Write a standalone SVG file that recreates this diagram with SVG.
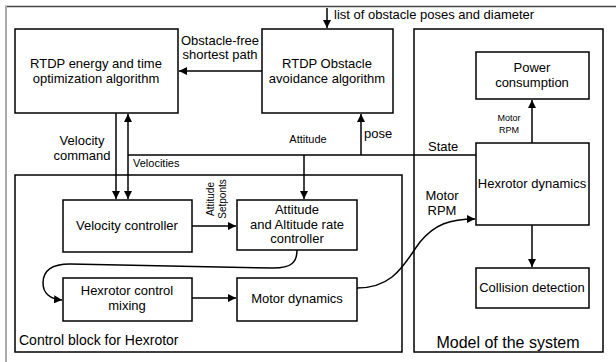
<svg xmlns="http://www.w3.org/2000/svg" width="616" height="362" viewBox="0 0 616 362">
<defs>
<marker id="ah" viewBox="0 0 10 10" refX="10" refY="5" markerWidth="8" markerHeight="8" markerUnits="userSpaceOnUse" orient="auto">
<path d="M0,0 L10,5 L0,10 z" fill="#000"/>
</marker>
<style>
.box{fill:#fff;stroke:#000;stroke-width:1.5}
.grp{fill:none;stroke:#000;stroke-width:1.5}
.t{font-family:"Liberation Sans",Arial,sans-serif;font-size:13px;fill:#000;text-anchor:middle;dominant-baseline:central}
.s{font-size:11px}
.xs{font-size:9px}
.c{fill:none;stroke:#000;stroke-width:1.5}
.a{marker-end:url(#ah)}
</style>
</defs>
<rect width="616" height="362" fill="#fff"/>
<line x1="5" y1="6.5" x2="616" y2="6.5" stroke="#444" stroke-width="1.5"/>
<line x1="6" y1="6" x2="6" y2="362" stroke="#aaa" stroke-width="2"/>

<g id="control-block">
<rect class="grp" x="15" y="175" width="387" height="177"/>
<text class="t" x="19" y="340" style="text-anchor:start;font-size:14px">Control block for Hexrotor</text>
</g>
<g id="model-system">
<rect class="grp" x="414" y="29" width="189" height="323"/>
<text class="t" x="508" y="342" style="font-size:16px">Model of the system</text>
</g>

<g id="connectors">
<line class="c a" x1="262" y1="71" x2="179" y2="71"/>
<line class="c a" x1="327" y1="8" x2="327" y2="28"/>
<line class="c a" x1="116" y1="113" x2="116" y2="199"/>
<line class="c a" x1="128" y1="155" x2="128" y2="114"/>
<line class="c a" x1="128" y1="155" x2="128" y2="199"/>
<line class="c" x1="128" y1="155" x2="476" y2="155"/>
<line class="c a" x1="304" y1="155" x2="304" y2="199"/>
<line class="c a" x1="361" y1="155" x2="361" y2="114"/>
<line class="c a" x1="532" y1="143" x2="532" y2="100"/>
<line class="c a" x1="532" y1="225" x2="532" y2="267"/>
<line class="c a" x1="192" y1="226" x2="236" y2="226"/>
<line class="c a" x1="192" y1="298" x2="236" y2="298"/>
<path class="c a" d="M297,250 C297,262 292,268 273,268 L70,264 C50,264 43,272 43,283 C43,293 50,299 62,300"/>
<path class="c a" d="M357,288 C395,288 405,262 420,242 C435,224 450,219 475,219"/>
<text class="t" x="220" y="40">Obstacle-free</text>
<text class="t" x="220" y="54">shortest path</text>
<text class="t" x="334" y="14" style="text-anchor:start">list of obstacle poses and diameter</text>
<text class="t" x="82" y="140">Velocity</text>
<text class="t" x="82" y="155">command</text>
<text class="t s" x="133" y="163" style="text-anchor:start">Velocities</text>
<text class="t s" x="308" y="139">Attitude</text>
<text class="t" x="364" y="133" style="text-anchor:start">pose</text>
<text class="t" x="428" y="146" style="text-anchor:start">State</text>
<text class="t xs" x="509" y="118">Motor</text>
<text class="t xs" x="509" y="130">RPM</text>
<text class="t" x="442" y="195">Motor</text>
<text class="t" x="442" y="210">RPM</text>
<g transform="translate(216,199) rotate(-90)">
<text class="t s" x="0" y="-6" style="font-size:10px">Attitude</text>
<text class="t s" x="0" y="6" style="font-size:10px">Setponts</text>
</g>
</g>

<g id="rtdp-energy">
<rect class="box" x="15" y="29" width="163" height="84"/>
<text class="t" x="96" y="63">RTDP energy and time</text>
<text class="t" x="96" y="78">optimization algorithm</text>
</g>
<g id="rtdp-obstacle">
<rect class="box" x="262" y="29" width="131" height="84"/>
<text class="t" x="327" y="63">RTDP Obstacle</text>
<text class="t" x="327" y="78">avoidance algorithm</text>
</g>
<g id="power">
<rect class="box" x="476" y="52" width="113" height="47"/>
<text class="t" x="532" y="67">Power</text>
<text class="t" x="532" y="82">consumption</text>
</g>
<g id="hexrotor-dynamics">
<rect class="box" x="476" y="143" width="113" height="82"/>
<text class="t" x="532" y="183">Hexrotor dynamics</text>
</g>
<g id="collision">
<rect class="box" x="476" y="268" width="113" height="40"/>
<text class="t" x="532" y="287">Collision detection</text>
</g>
<g id="velocity-controller">
<rect class="box" x="63" y="200" width="129" height="52"/>
<text class="t" x="127" y="225">Velocity controller</text>
</g>
<g id="attitude-controller">
<rect class="box" x="237" y="200" width="120" height="50"/>
<text class="t" x="297" y="209">Attitude</text>
<text class="t" x="297" y="224">and Altitude rate</text>
<text class="t" x="297" y="238">controller</text>
</g>
<g id="mixing">
<rect class="box" x="63" y="278" width="129" height="43"/>
<text class="t" x="127" y="290">Hexrotor control</text>
<text class="t" x="127" y="305">mixing</text>
</g>
<g id="motor-dynamics">
<rect class="box" x="237" y="278" width="120" height="43"/>
<text class="t" x="297" y="298">Motor dynamics</text>
</g>
</svg>
